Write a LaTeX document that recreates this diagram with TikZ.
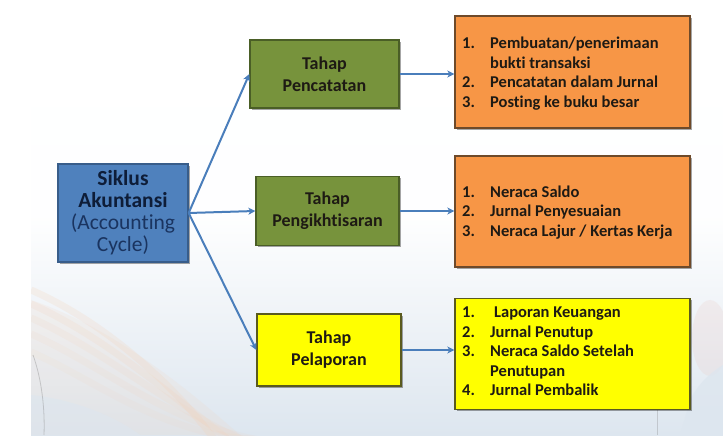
\documentclass[tikz,border=0pt]{standalone}
\usepackage{fontspec}
\setmainfont{Carlito}[Ligatures={NoCommon,NoContextual}]
\usetikzlibrary{arrows.meta,shadows}
\definecolor{bluefill}{HTML}{4F81BD}
\definecolor{blueline}{HTML}{385D8A}
\definecolor{greenfill}{HTML}{77933C}
\definecolor{greenline}{HTML}{4A5E26}
\definecolor{orangefill}{HTML}{F79646}
\definecolor{orangeline}{HTML}{6E4A2A}
\definecolor{yellowfill}{HTML}{FFFF00}
\definecolor{yellowline}{HTML}{5A5A1E}
\definecolor{arrowcol}{HTML}{4A7EBB}
\definecolor{navytext}{HTML}{0E1D38}
\definecolor{bluetext}{HTML}{1A3460}
\definecolor{darktext}{HTML}{1E1A14}
\definecolor{bgbottom}{HTML}{DDE6EF}
\definecolor{peach}{HTML}{F4D2B8}
\definecolor{pinkish}{HTML}{EBC9C4}
\begin{document}
\begin{tikzpicture}[x=1pt,y=-1pt,
  boxbase/.style={draw, line width=1.3pt, inner sep=0pt, align=center,
    drop shadow={shadow xshift=1.6pt, shadow yshift=-1.6pt, fill=black, opacity=0.35}},
  mainbox/.style={boxbase, fill=bluefill, draw=blueline, text=navytext,
    minimum width=130pt, minimum height=98pt, font=\fontsize{21.5}{22}\selectfont},
  stagebox/.style={boxbase, fill=greenfill, draw=greenline, text=darktext,
    font=\fontsize{18}{22}\selectfont\bfseries},
  reportbox/.style={boxbase, fill=yellowfill, draw=yellowline, text=darktext,
    font=\fontsize{18}{22}\selectfont\bfseries},
  listbox/.style={boxbase, minimum width=235pt},
  listtext/.style={anchor=west, inner sep=0pt, text=darktext, align=left,
    font=\fontsize{16.5}{19.5}\selectfont\bfseries},
  link/.style={draw=arrowcol, line width=2pt, -{Stealth[length=7pt,width=7pt,inset=2pt]}}
]
\useasboundingbox (0,0) rectangle (723,438);
% background
\fill[white] (0,0) rectangle (723,438);
\shade[top color=white, bottom color=bgbottom, middle color=white!97!bgbottom]
  (31,0) rectangle (723,435);
\begin{scope}
\clip (31,0) rectangle (723,435);
\foreach \dx/\op in {0/0.22,14/0.18,28/0.15,44/0.12,62/0.1}{
  \draw[peach, opacity=\op, line width=7pt]
    (31,290+\dx) .. controls (100,320+\dx) and (170,380+\dx) .. (215+\dx,440);
}
\fill[peach, opacity=0.15] (31,300) .. controls (120,330) and (200,400) .. (240,435)
  -- (31,435) -- cycle;
\fill[bgbottom, opacity=0.6] (31,395) .. controls (80,400) and (120,420) .. (140,435) -- (31,435) -- cycle;
\draw[gray, opacity=0.35, line width=0.8pt] (33,355) .. controls (42,380) and (45,410) .. (44,435);
\fill[pinkish, opacity=0.22] (710,338) ellipse [x radius=18, y radius=38];
\fill[bgbottom, opacity=0.8] (690,400) .. controls (700,380) and (715,370) .. (723,365) -- (723,435) -- (680,435) -- cycle;
\draw[gray, opacity=0.3, line width=0.6pt] (657,410) -- (657,435);
\end{scope}

% nodes
\node[mainbox] (siklus) at (123,213)
  {\textbf{Siklus}\\\textbf{Akuntansi}\\\textcolor{bluetext}{(Accounting}\\\textcolor{bluetext}{Cycle)}};
\node[stagebox, minimum width=149pt, minimum height=68pt] (catat) at (324.5,74) {Tahap\\Pencatatan};
\node[stagebox, minimum width=143pt, minimum height=69pt] (ikhtisar) at (327.5,211) {Tahap\\Pengikhtisaran};
\node[reportbox, minimum width=144pt, minimum height=72pt] (lapor) at (329,350) {Tahap\\Pelaporan};

\node[listbox, fill=orangefill, draw=orangeline, minimum height=112pt] (list1) at (572.5,72) {};
\node[listbox, fill=orangefill, draw=orangeline, minimum height=111pt] (list2) at (572.5,211.5) {};
\node[listbox, fill=yellowfill, draw=yellowline, minimum height=111pt] (list3) at (572.5,354) {};

\node[listtext] (txt1) at (462,74) {%
  \begin{tabular}{@{}p{28pt}@{}l@{}}
  1. & Pembuatan/penerimaan\\
     & bukti transaksi\\
  2. & Pencatatan dalam Jurnal\\
  3. & Posting ke buku besar
  \end{tabular}};
\node[listtext] (txt2) at (462,213) {%
  \begin{tabular}{@{}p{28pt}@{}l@{}}
  1. & Neraca Saldo\\
  2. & Jurnal Penyesuaian\\
  3. & Neraca Lajur / Kertas Kerja
  \end{tabular}};
\node[listtext] (txt3) at (462,353) {%
  \begin{tabular}{@{}p{28pt}@{}l@{}}
  1. & \hspace{4pt}Laporan Keuangan\\
  2. & Jurnal Penutup\\
  3. & Neraca Saldo Setelah\\
     & Penutupan\\
  4. & Jurnal Pembalik
  \end{tabular}};

% connectors
\draw[link] (siklus.east) -- (catat.west);
\draw[link] (siklus.east) -- (ikhtisar.west);
\draw[link] (siklus.east) -- (lapor.west);
\draw[link] (catat.east) -- (catat.east -| list1.west);
\draw[link] (ikhtisar.east) -- (ikhtisar.east -| list2.west);
\draw[link] (lapor.east) -- (lapor.east -| list3.west);
\end{tikzpicture}
\end{document}
